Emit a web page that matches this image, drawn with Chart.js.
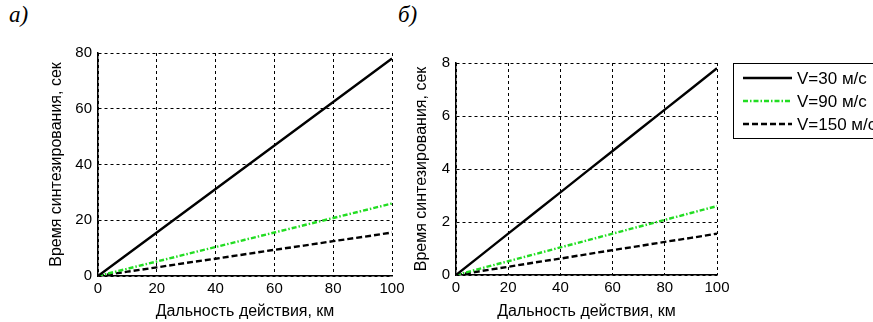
<!DOCTYPE html>
<html>
<head>
<meta charset="utf-8">
<script src="https://cdn.jsdelivr.net/npm/chart.js@4/dist/chart.umd.min.js"></script>
<style>
  html, body { margin: 0; padding: 0; background: #fff; width: 873px; height: 322px; overflow: hidden; position: relative; }
  .lbl { position: absolute; font-family: "Liberation Serif", "DejaVu Serif", serif; font-style: italic; font-size: 23px; color: #000; }
  .box { position: absolute; top: 0; height: 322px; }
</style>
</head>
<body>
<div class="lbl" style="left:9px; top:2px;">а)</div>
<div class="lbl" style="left:398px; top:2px;">б)</div>
<div class="box" style="left:0; width:420px;"><canvas id="c1"></canvas></div>
<div class="box" style="left:395px; width:500px;"><canvas id="c2"></canvas></div>
<script>
// ---- data ----
const distanceKm = [0, 10, 20, 30, 40, 50, 60, 70, 80, 90, 100];
const seriesLabels = ['V=30 м/с', 'V=90 м/с', 'V=150 м/с'];
// panel а) synthesis time, s
const aV30  = [0, 7.8, 15.6, 23.4, 31.2, 39.0, 46.8, 54.6, 62.4, 70.2, 78.0];
const aV90  = [0, 2.6, 5.2, 7.8, 10.4, 13.0, 15.6, 18.2, 20.8, 23.4, 26.0];
const aV150 = [0, 1.55, 3.1, 4.7, 6.2, 7.8, 9.4, 10.9, 12.5, 14.0, 15.6];
// panel б) synthesis time, s
const bV30  = [0, 0.78, 1.56, 2.34, 3.12, 3.9, 4.68, 5.46, 6.24, 7.02, 7.8];
const bV90  = [0, 0.26, 0.52, 0.78, 1.04, 1.3, 1.56, 1.82, 2.08, 2.34, 2.6];
const bV150 = [0, 0.155, 0.31, 0.47, 0.62, 0.78, 0.94, 1.09, 1.25, 1.4, 1.56];
const aYTicks = [0, 20, 40, 60, 80];
const bYTicks = [0, 2, 4, 6, 8];
const xTicks = [0, 20, 40, 60, 80, 100];
const xTitle = 'Дальность действия, км';
const yTitle = 'Время синтезирования, сек';

const styles = [
  { color: '#000000', dash: [], width: 2.4 },
  { color: '#22dd22', dash: [5, 2, 1.5, 2], width: 2.4 },
  { color: '#000000', dash: [6, 3], width: 2.4 }
];

function toPts(ys) { return distanceKm.map((x, i) => ({ x: x, y: ys[i] })); }

function makeDatasets(arrs) {
  return arrs.map((ys, i) => ({
    label: seriesLabels[i],
    data: toPts(ys),
    borderColor: styles[i].color,
    backgroundColor: styles[i].color,
    borderDash: styles[i].dash,
    borderWidth: styles[i].width,
    pointRadius: 0,
    fill: false,
    tension: 0
  }));
}

const legendBox = {
  id: 'legendBox',
  afterDraw(chart, args, opts) {
    if (!opts || !opts.show) return;
    const ctx = chart.ctx;
    const a = chart.chartArea;
    const x0 = a.right + opts.dx, y0 = a.top + opts.dy;
    ctx.save();
    ctx.fillStyle = '#fff';
    ctx.fillRect(x0, y0, opts.w, opts.h);
    ctx.strokeStyle = '#000';
    ctx.lineWidth = 1;
    ctx.setLineDash([]);
    ctx.strokeRect(x0 + 0.5, y0 + 0.5, opts.w, opts.h);
    ctx.font = opts.font;
    ctx.textBaseline = 'middle';
    ctx.textAlign = 'left';
    chart.data.datasets.forEach((ds, i) => {
      const y = y0 + opts.row0 + i * opts.rowStep;
      ctx.beginPath();
      ctx.strokeStyle = ds.borderColor;
      ctx.lineWidth = ds.borderWidth;
      ctx.setLineDash(ds.borderDash || []);
      ctx.moveTo(x0 + opts.lineX0, y);
      ctx.lineTo(x0 + opts.lineX1, y);
      ctx.stroke();
      ctx.setLineDash([]);
      ctx.fillStyle = '#000';
      ctx.fillText(ds.label, x0 + opts.textX, y + 1);
    });
    ctx.restore();
  }
};

function makeChart(id, arrs, yMax, yTicks, pad, yWidth, xHeight, legendOpts) {
  const tickFont = { family: 'Liberation Sans, Arial, sans-serif', size: 15 };
  const titleFont = { family: 'Liberation Sans, Arial, sans-serif', size: 16 };
  return new Chart(document.getElementById(id), {
    type: 'line',
    data: { datasets: makeDatasets(arrs) },
    plugins: [legendBox],
    options: {
      responsive: true,
      maintainAspectRatio: false,
      animation: false,
      events: [],
      layout: { padding: pad },
      plugins: {
        legend: { display: false },
        tooltip: { enabled: false },
        legendBox: legendOpts
      },
      scales: {
        x: {
          type: 'linear', min: 0, max: 100,
          afterBuildTicks(s) { s.ticks = xTicks.map(v => ({ value: v })); },
          afterFit(s) { s.height = xHeight; },
          ticks: { color: '#000', font: tickFont, padding: 4, maxRotation: 0, autoSkip: false },
          grid: { color: '#000', lineWidth: 1, drawTicks: false },
          border: { display: true, color: '#000', width: 1.5, dash: [3, 3] },
          title: { display: true, text: xTitle, color: '#000', font: titleFont, padding: { top: 0, bottom: 1 } }
        },
        y: {
          type: 'linear', min: 0, max: yMax,
          afterBuildTicks(s) { s.ticks = yTicks.map(v => ({ value: v })); },
          afterFit(s) { s.width = yWidth; },
          ticks: { color: '#000', font: tickFont, padding: 6, autoSkip: false },
          grid: { color: '#000', lineWidth: 1, drawTicks: false },
          border: { display: true, color: '#000', width: 1.5, dash: [3, 3] },
          title: { display: true, text: yTitle, color: '#000', font: titleFont, padding: { top: 4, bottom: 0 } }
        }
      }
    }
  });
}

makeChart('c1', [aV30, aV90, aV150], 80, aYTicks,
  { left: 43, top: 53, right: 28, bottom: 0 }, 55, 46, { show: false });
makeChart('c2', [bV30, bV90, bV150], 8, bYTicks,
  { left: 13, top: 63, right: 178, bottom: 0 }, 48, 47,
  { show: true, dx: 16, dy: 0, w: 220, h: 75, lineX0: 10, lineX1: 59, textX: 64, row0: 15, rowStep: 23,
    font: '17px "Liberation Sans", Arial, sans-serif' });
</script>
</body>
</html>
